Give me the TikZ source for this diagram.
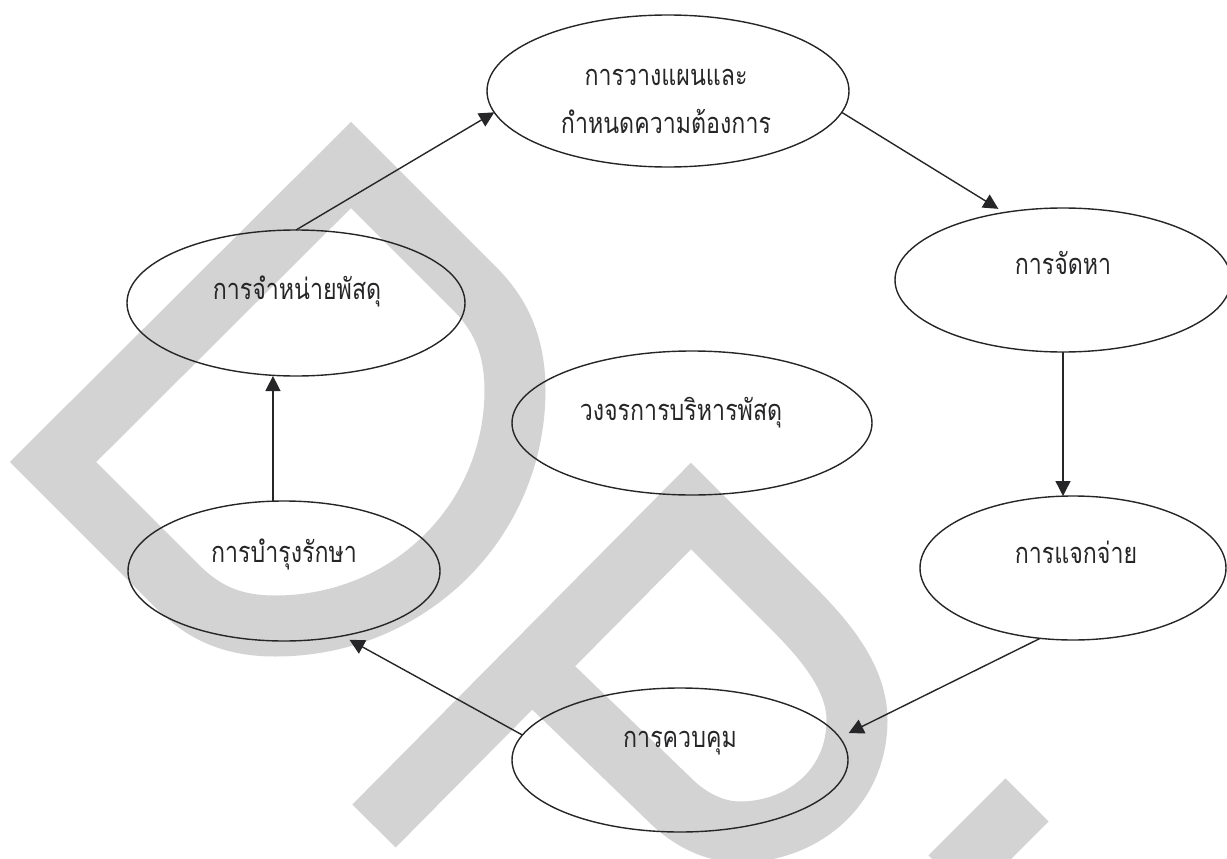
\documentclass[tikz,border=0pt]{standalone}
\usepackage{fontspec}
\newfontfamily\thaifont[Script=Thai,FakeStretch=0.8]{Loma}
\usetikzlibrary{shapes.geometric,arrows.meta}
\definecolor{wm}{RGB}{211,211,211}
\definecolor{ink}{RGB}{38,38,40}
\begin{document}
\begin{tikzpicture}[x=1pt,y=-1pt,
  oval/.style={ellipse,draw=ink,line width=1.4pt,inner sep=0pt,outer sep=0pt},
  lbl/.style={font=\thaifont\fontsize{29}{48}\selectfont,text=ink,align=center,inner sep=0pt},
  conn/.style={draw=ink,line width=1.4pt,-{Triangle[length=15pt,width=15pt]}},
  wmband/.style={draw=wm,line width=61pt,line join=miter}]
\path[use as bounding box] (0,0) rectangle (1227,859);
\clip (0,0) rectangle (1227,859);
% watermark
\draw[wmband] (53,462) -- (351,165) -- (475,289)
  .. controls (500,314) and (515,345) .. (515,390)
  .. controls (515,520) and (410,626) .. (275,626)
  .. controls (230,626) and (202,611) .. (177,586) -- cycle;
\draw[wmband] (374,826) -- (691,506) -- (790,605)
  .. controls (820,635) and (857,675) .. (857,720)
  .. controls (857,790) and (800,832) .. (740,832)
  .. controls (715,832) and (690,820) .. (670,800) -- (532,667);
\draw[wmband] (1027,800) -- (950,877);
% ellipses
\node[oval,minimum width=362pt,minimum height=152pt] (A) at (668,91) {};
\node[oval,minimum width=336pt,minimum height=144pt] (B) at (1063,280) {};
\node[oval,minimum width=306pt,minimum height=144pt] (C) at (1073,568) {};
\node[oval,minimum width=336pt,minimum height=144pt] (D) at (680,760) {};
\node[oval,minimum width=312pt,minimum height=140pt] (E) at (284,571) {};
\node[oval,minimum width=338pt,minimum height=146pt] (F) at (296,303) {};
\node[oval,minimum width=360pt,minimum height=144pt] (G) at (692,423) {};
% labels
\node[lbl] (At) at (666,101) {การวางแผนและ\\กำหนดความต้องการ};
\node[lbl] (Bt) at (1063,263) {การจัดหา};
\node[lbl] (Ct) at (1076,552) {การแจกจ่าย};
\node[lbl] (Dt) at (680,743) {การควบคุม};
\node[lbl] (Et) at (284,554) {การบำรุงรักษา};
\node[lbl] (Ft) at (297,291) {การจำหน่ายพัสดุ};
\node[lbl] (Gt) at (681,413) {วงจรการบริหารพัสดุ};
% connectors
\draw[conn] (F.north) -- (A.187);
\draw[conn,shorten >=7pt] (A.-7.5) -- (B.131);
\draw[conn] (B.south) -- (B.south |- C.north);
\draw[conn,shorten >=10pt] (C.245) -- (D.8);
\draw[conn,shorten >=8pt] (D.171.5) -- (E.-48.4);
\draw[conn] (E.99.5) -- (E.99.5 |- F.south);
\end{tikzpicture}
\end{document}
